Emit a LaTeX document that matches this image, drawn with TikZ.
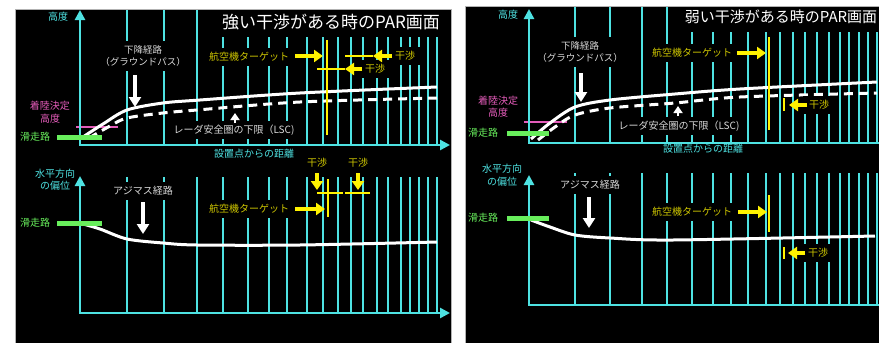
\documentclass[tikz,border=0pt]{standalone}
\usepackage{fontspec}
\setmainfont{Noto Sans CJK JP}
\usetikzlibrary{arrows.meta}

\definecolor{parcyan}{RGB}{78,226,226}
\definecolor{paryellow}{RGB}{255,242,0}
\definecolor{lblyellow}{RGB}{206,198,0}
\definecolor{rwgreen}{RGB}{104,238,92}
\definecolor{dhpink}{RGB}{228,92,186}
\definecolor{lblgray}{RGB}{218,218,218}

\tikzset{
  panel/.style={fill=black, draw=gray!60, line width=0.8pt},
  gridline/.style={parcyan, line width=2pt},
  axisline/.style={parcyan, line width=2.6pt},
  axistip/.style={{Triangle[length=10pt,width=10pt]}-{Triangle[length=10pt,width=10pt]}},
  pathline/.style={white, line width=3pt},
  lscline/.style={white, line width=3pt, dash pattern=on 9pt off 6pt},
  runway/.style={rwgreen, line width=5pt},
  dhline/.style={dhpink, line width=2pt},
  tgtline/.style={paryellow, line width=2.2pt},
  echoline/.style={paryellow, line width=1.8pt},
  yarrow/.style={paryellow, line width=3.6pt, -{Triangle[length=9pt,width=12pt]}},
  warrow/.style={white, line width=3.6pt, -{Triangle[length=10pt,width=12pt]}},
  lbltext/.style={font=\fontsize{10}{12.5}\selectfont, align=center, inner sep=1pt},
  lblbox/.style={lbltext, fill=black, inner xsep=4pt, inner ysep=4pt},
  titletext/.style={fill=black, text=white, inner sep=2pt},
}

\begin{document}
\begin{tikzpicture}[x=1pt,y=-1pt]
  \useasboundingbox (0,0) rectangle (879,343);
  \fill[white] (0,0) rectangle (879,343);
  \draw[panel] (15,9) rectangle (451,346);
  \draw[panel] (465,6) rectangle (882,346);

  \draw[dhline] (76,127) -- (118,127);
  \foreach \x in {127,164,197}
    \draw[gridline] (\x,10) -- (\x,145);
  \foreach \x in {223,248,269,287,307,323,338,351,363,377,388,401,410,419,428,437}
    \draw[gridline] (\x,37) -- (\x,145);
  \foreach \x in {127,164,197,223,248,269,287,307,323,338,351,363,377,388,401,410,419,428,437}
    \draw[gridline] (\x,177) -- (\x,313);
  \draw[axisline, axistip] (80,10) |- (450,145);
  \draw[axisline, axistip] (80,176) |- (450,313);
  \draw[pathline] plot[smooth] coordinates {(83,137) (103,124) (127,110) (163,103) (200,100) (300,93) (437,87)};
  \draw[lscline] plot[smooth] coordinates {(89,138) (110,126) (127,118) (163,113) (197,110) (300,102) (437,98)};
  \draw[pathline] plot[smooth] coordinates {(83,224) (100,229) (127,239) (163,243) (197,245) (300,245) (437,242)};
  \draw[runway] (57,137) -- (102,137);
  \draw[runway] (57,223) -- (102,223);

  \node[titletext, font=\fontsize{17}{20}\selectfont] (ttlL) at (331,22) {強い干渉がある時のPAR画面};
  \node[lbltext, text=parcyan] (altL) at (58,17) {高度};
  \node[lbltext, text=dhpink] (dhL) at (50,112) {着陸決定\\高度};
  \node[lbltext, text=rwgreen] (rwL) at (35,137) {滑走路};
  \node[lbltext, text=parcyan] (distL) at (254,154) {設置点からの距離};
  \node[lblbox, text=lblgray, font=\fontsize{9.5}{12.5}\selectfont] (gpL) at (143,56) {下降経路\\（グラウンドパス）};
  \node[lblbox, text=lblyellow] (tgtL) at (249,57) {航空機ターゲット};
  \node[lblbox, text=lblyellow, inner xsep=5pt] (ifaL) at (405,56) {干渉};
  \node[lblbox, text=lblyellow, inner xsep=5pt] (ifbL) at (375,69) {干渉};
  \node[lblbox, text=lblgray, inner xsep=8pt] (lscL) at (234,130) {レーダ安全圏の下限（LSC)};
  \node[lbltext, text=parcyan] (devL) at (55,179.5) {水平方向\\の偏位};
  \node[lbltext, text=rwgreen] (rwlL) at (35,223) {滑走路};
  \node[lblbox, text=lblgray] (azL) at (143,191) {アジマス経路};
  \node[lblbox, text=lblyellow] (tgtlL) at (249,209) {航空機ターゲット};
  \node[lbltext, text=lblyellow] (ifcL) at (317,163) {干渉};
  \node[lbltext, text=lblyellow] (ifdL) at (358,163) {干渉};

  \draw[warrow] (135,75) -- (135,107);
  \draw[white, line width=2.6pt, -{Triangle[length=7pt,width=9pt]}] (235,123) -- (235,113);
  \draw[warrow] (143,202) -- (143,234);
  \draw[tgtline] (327,40) -- (327,135);
  \draw[yarrow] (295,56) -- (323,56);
  \draw[echoline] (345,56) -- (373,56);
  \draw[yarrow] (392,56) -- (373,56);
  \draw[echoline] (317,69) -- (345,69);
  \draw[yarrow] (362,69) -- (345,69);
  \draw[tgtline] (328,179) -- (328,217);
  \draw[yarrow] (295,209) -- (325,209);
  \draw[yarrow] (317,173) -- (317,190);
  \draw[yarrow] (358,173) -- (358,190);
  \draw[echoline] (317,193) -- (343,193);
  \draw[echoline] (345,193) -- (370,193);

  \draw[dhline] (524,122) -- (567,122);
  \foreach \x in {575,610,642,667}
    \draw[gridline] (\x,7) -- (\x,143);
  \foreach \x in {692,713,731,748,766,780,793,805,817,829,840,849,859,868,877}
    \draw[gridline] (\x,32) -- (\x,143);
  \foreach \x in {575,610,642,667,692,713,731,748,766,780,793,805,817,829,840,849,859,868,877}
    \draw[gridline] (\x,173) -- (\x,305);
  \draw[axisline, {Triangle[length=10pt,width=10pt]}-] (529,9) |- (882,143);
  \draw[axisline, {Triangle[length=10pt,width=10pt]}-] (529,175) |- (882,305);
  \draw[pathline] plot[smooth] coordinates {(531,139) (550,123) (575,107) (610,100) (675,94) (740,89) (877,82)};
  \draw[lscline] plot[smooth] coordinates {(538,140) (555,127) (575,115) (610,108) (675,103) (740,97) (877,93)};
  \draw[pathline] plot[smooth] coordinates {(531,220) (550,227) (575,235) (610,238) (673,240) (875,236)};
  \draw[runway] (507,133) -- (549,133);
  \draw[runway] (507,218) -- (549,218);

  \node[titletext, font=\fontsize{15}{18}\selectfont] (ttlR) at (781,17) {弱い干渉がある時のPAR画面};
  \node[lbltext, text=parcyan] (altR) at (508,15) {高度};
  \node[lbltext, text=dhpink] (dhR) at (498,106.5) {着陸決定\\高度};
  \node[lbltext, text=rwgreen] (rwR) at (483,133) {滑走路};
  \node[lbltext, text=parcyan] (distR) at (703,149) {設置点からの距離};
  \node[lblbox, text=lblgray, font=\fontsize{9.5}{12.5}\selectfont] (gpR) at (580,52) {下降経路\\（グラウンドパス）};
  \node[lblbox, text=lblyellow] (tgtR) at (692,53) {航空機ターゲット};
  \node[lblbox, text=lblyellow, inner xsep=6pt] (ifaR) at (819,105) {干渉};
  \node[lblbox, text=lblgray, inner xsep=8pt] (lscR) at (679,126) {レーダ安全圏の下限（LSC)};
  \node[lbltext, text=parcyan] (devR) at (502,175) {水平方向\\の偏位};
  \node[lbltext, text=rwgreen] (rwlR) at (483,218) {滑走路};
  \node[lblbox, text=lblgray] (azR) at (590,185) {アジマス経路};
  \node[lblbox, text=lblyellow] (tgtlR) at (692,212) {航空機ターゲット};
  \node[lblbox, text=lblyellow, inner xsep=6pt] (ifbR) at (818,253) {干渉};

  \draw[warrow] (581,73) -- (581,102);
  \draw[white, line width=2.6pt, -{Triangle[length=7pt,width=9pt]}] (678,116) -- (678,106);
  \draw[warrow] (589,197) -- (589,228);
  \draw[tgtline] (769,37) -- (769,130);
  \draw[yarrow] (737,53) -- (766,53);
  \draw[echoline] (784,98) -- (784,111);
  \draw[yarrow] (807,105) -- (789,105);
  \draw[tgtline] (769,195) -- (769,232);
  \draw[yarrow] (738,212) -- (767,212);
  \draw[echoline] (784,247) -- (784,259);
  \draw[yarrow] (805,253) -- (788,253);
\end{tikzpicture}
\end{document}
